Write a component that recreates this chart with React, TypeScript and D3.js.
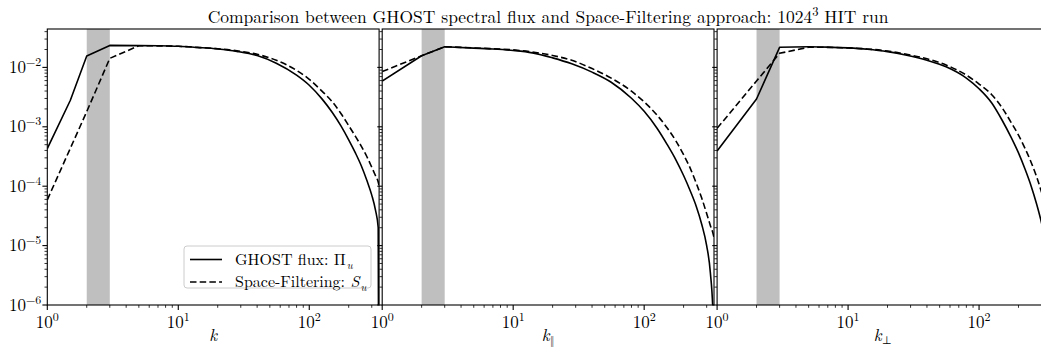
import React from 'react';
import * as d3 from 'd3';

// ---------- data ----------
const kDomain = [1, 1024 / 3];
const yDomain = [1e-6, 0.0443];
const bandK = [2, 3];
const titleText = 'Comparison between GHOST spectral flux and Space-Filtering approach: 1024';
const xLabels = ['', '\u2016', '\u22A5'];
const legendLabels = ['GHOST flux: ', 'Space-Filtering: '];

// wavenumbers of the smooth part (shared by all series)
const kTail = [5, 7, 10, 14, 20, 28, 40, 56, 80, 100, 125, 150, 175, 200, 225, 250, 275, 300, 320, 336, 341];

// panel 1 : k   (values as log10 of the flux)
const p1SolidHeadK = [1, 1.5, 2, 3];
const p1SolidHead = [-3.366, -2.553, -1.807, -1.630];
const p1SolidTail = [-1.633, -1.636, -1.645, -1.665, -1.69, -1.73, -1.80, -1.93, -2.13, -2.30, -2.53, -2.76, -2.99, -3.22, -3.44, -3.66, -3.90, -4.15, -4.40, -4.70, -9];
const p1DashHeadK = [1, 2, 3];
const p1DashHead = [-4.229, -2.745, -1.848];
const p1DashTail = [-1.635, -1.637, -1.645, -1.663, -1.685, -1.72, -1.78, -1.88, -2.05, -2.20, -2.40, -2.58, -2.78, -2.98, -3.16, -3.33, -3.50, -3.68, -3.82, -3.93, -3.99];

// panel 2 : k_par
const p2SolidHeadK = [1, 2, 3];
const p2SolidHead = [-2.229, -1.804, -1.652];
const p2SolidTail = [-1.675, -1.69, -1.715, -1.755, -1.84, -1.94, -2.08, -2.25, -2.52, -2.74, -3.02, -3.30, -3.56, -3.82, -4.08, -4.34, -4.64, -5.00, -5.45, -6.2, -9];
const p2DashHeadK = [1, 2, 3];
const p2DashHead = [-2.07, -1.804, -1.652];
const p2DashTail = [-1.672, -1.685, -1.705, -1.74, -1.80, -1.88, -2.02, -2.18, -2.40, -2.58, -2.80, -3.02, -3.24, -3.47, -3.70, -3.95, -4.20, -4.46, -4.66, -4.80, -4.86];

// panel 3 : k_perp
const p3SolidHeadK = [1, 2, 3];
const p3SolidHead = [-3.407, -2.532, -1.662];
const p3SolidTail = [-1.652, -1.658, -1.672, -1.695, -1.735, -1.795, -1.88, -1.99, -2.18, -2.36, -2.60, -2.89, -3.17, -3.44, -3.72, -4.00, -4.30, -4.62, -4.92, -5.18, -5.28];
const p3DashHeadK = [1, 2, 3];
const p3DashHead = [-3.026, -2.229, -1.763];
const p3DashTail = [-1.66, -1.663, -1.672, -1.69, -1.725, -1.78, -1.855, -1.96, -2.13, -2.28, -2.46, -2.68, -2.92, -3.14, -3.37, -3.60, -3.84, -4.10, -4.30, -4.46, -4.52];

const xMajor = [1, 10, 100];
const yMajor = [1e-6, 1e-5, 1e-4, 1e-3, 1e-2];

// ---------- layout ----------
const WIDTH = 1041;
const HEIGHT = 347;
const LEFTS = [47.3, 382.2, 717.1];
const PW = 331.8;
const TOP = 29;
const BOTTOM = 305;
const FONT = "'Latin Modern Roman', 'CMU Serif', 'Liberation Serif', serif";
const TICK_FS = 17;
const SUP_FS = 12;

const panels = [
  { shk: p1SolidHeadK, sh: p1SolidHead, st: p1SolidTail, dhk: p1DashHeadK, dh: p1DashHead, dt: p1DashTail, sub: xLabels[0] },
  { shk: p2SolidHeadK, sh: p2SolidHead, st: p2SolidTail, dhk: p2DashHeadK, dh: p2DashHead, dt: p2DashTail, sub: xLabels[1] },
  { shk: p3SolidHeadK, sh: p3SolidHead, st: p3SolidTail, dhk: p3DashHeadK, dh: p3DashHead, dt: p3DashTail, sub: xLabels[2] },
];

const y = d3.scaleLog().domain(yDomain).range([BOTTOM, TOP]);

function makePath(headK: number[], head: number[], tail: number[], x: d3.ScaleLogarithmic<number, number>) {
  const hp: [number, number][] = headK.map((k, i) => [x(k), y(Math.pow(10, head[i]))]);
  const tp: [number, number][] = kTail.map((k, i) => [x(k), y(Math.pow(10, tail[i]))]);
  const lin = d3.line().curve(d3.curveLinear)([...hp, tp[0]]) || '';
  const smooth = d3.line().curve(d3.curveMonotoneX)(tp) || '';
  return lin + smooth.replace(/^M/, 'L');
}

function minorTicks(lo: number, hi: number) {
  const out: number[] = [];
  for (let e = Math.floor(Math.log10(lo)); e <= Math.ceil(Math.log10(hi)); e++) {
    for (let m = 2; m <= 9; m++) {
      const v = m * Math.pow(10, e);
      if (v >= lo && v <= hi) out.push(v);
    }
  }
  return out;
}

export default function App() {
  const yMinor = minorTicks(yDomain[0], yDomain[1]);
  const xMinor = minorTicks(kDomain[0], kDomain[1]);
  return (
    <svg width={WIDTH} height={HEIGHT} style={{ position: 'absolute', left: 0, top: 0, background: '#fff' }} fontFamily={FONT}>
      <rect x={0} y={0} width={WIDTH} height={HEIGHT} fill="#fff" />
      <defs>
        {LEFTS.map((l, i) => (
          <clipPath id={`clip${i}`} key={i}>
            <rect x={l} y={TOP} width={PW} height={BOTTOM - TOP} />
          </clipPath>
        ))}
      </defs>
      {panels.map((p, i) => {
        const L = LEFTS[i];
        const x = d3.scaleLog().domain(kDomain).range([L, L + PW]);
        return (
          <g key={i}>
            <rect x={x(bandK[0])} y={TOP} width={x(bandK[1]) - x(bandK[0])} height={BOTTOM - TOP} fill="#bfbfbf" />
            <g clipPath={`url(#clip${i})`}>
              <path d={makePath(p.shk, p.sh, p.st, x)} fill="none" stroke="#000" strokeWidth={1.6} strokeLinejoin="round" />
              <path d={makePath(p.dhk, p.dh, p.dt, x)} fill="none" stroke="#000" strokeWidth={1.6} strokeDasharray="6.5,3.2" />
            </g>
            <rect x={L} y={TOP} width={PW} height={BOTTOM - TOP} fill="none" stroke="#000" strokeWidth={1.1} />
            {/* x ticks */}
            {xMajor.map((k) => (
              <g key={k}>
                <line x1={x(k)} x2={x(k)} y1={BOTTOM} y2={BOTTOM + 4.9} stroke="#000" strokeWidth={1.1} />
                <text x={x(k)} y={328} textAnchor="middle" fontSize={TICK_FS}>
                  10<tspan dy={-7} fontSize={SUP_FS}>{Math.round(Math.log10(k))}</tspan>
                </text>
              </g>
            ))}
            {xMinor.map((k) => (
              <line key={'m' + k} x1={x(k)} x2={x(k)} y1={BOTTOM} y2={BOTTOM + 2.8} stroke="#000" strokeWidth={0.8} />
            ))}
            {/* y ticks */}
            {yMajor.map((v) => (
              <line key={v} x1={L - 4.9} x2={L} y1={y(v)} y2={y(v)} stroke="#000" strokeWidth={1.1} />
            ))}
            {yMinor.map((v) => (
              <line key={'m' + v} x1={L - 2.8} x2={L} y1={y(v)} y2={y(v)} stroke="#000" strokeWidth={0.8} />
            ))}
            {i === 0 &&
              yMajor.map((v) => (
                <text key={'t' + v} x={L - 6} y={y(v) + 5.5} textAnchor="end" fontSize={TICK_FS}>
                  10<tspan dy={-7} fontSize={SUP_FS}>{'\u2212' + Math.round(-Math.log10(v))}</tspan>
                </text>
              ))}
            <text x={L + PW / 2} y={341} textAnchor="middle" fontSize={17}>
              <tspan fontStyle="italic">k</tspan>
              {p.sub && <tspan dx={0.5} dy={3} fontSize={11}>{p.sub}</tspan>}
            </text>
          </g>
        );
      })}
      {/* title */}
      <text x={LEFTS[1] + PW / 2} y={23} textAnchor="middle" fontSize={17.5}>
        {titleText}<tspan dy={-7} fontSize={12.5}>3</tspan><tspan dy={7}> HIT run</tspan>
      </text>
      {/* legend */}
      <g>
        <rect x={184} y={246} width={187} height={42} rx={3} fill="#fff" fillOpacity={0.8} stroke="#cccccc" strokeWidth={1} />
        <line x1={190} x2={222} y1={259.5} y2={259.5} stroke="#000" strokeWidth={1.6} />
        <line x1={190} x2={222} y1={282} y2={282} stroke="#000" strokeWidth={1.6} strokeDasharray="6.5,3.2" />
        <text x={235} y={265} fontSize={16}>
          {legendLabels[0]}{'\u03A0'}<tspan dx={1} dy={3.5} fontSize={11} fontStyle="italic">u</tspan>
        </text>
        <text x={235} y={287} fontSize={16}>
          {legendLabels[1]}<tspan fontStyle="italic">S</tspan><tspan dx={1} dy={3.5} fontSize={11} fontStyle="italic">u</tspan>
        </text>
      </g>
    </svg>
  );
}
